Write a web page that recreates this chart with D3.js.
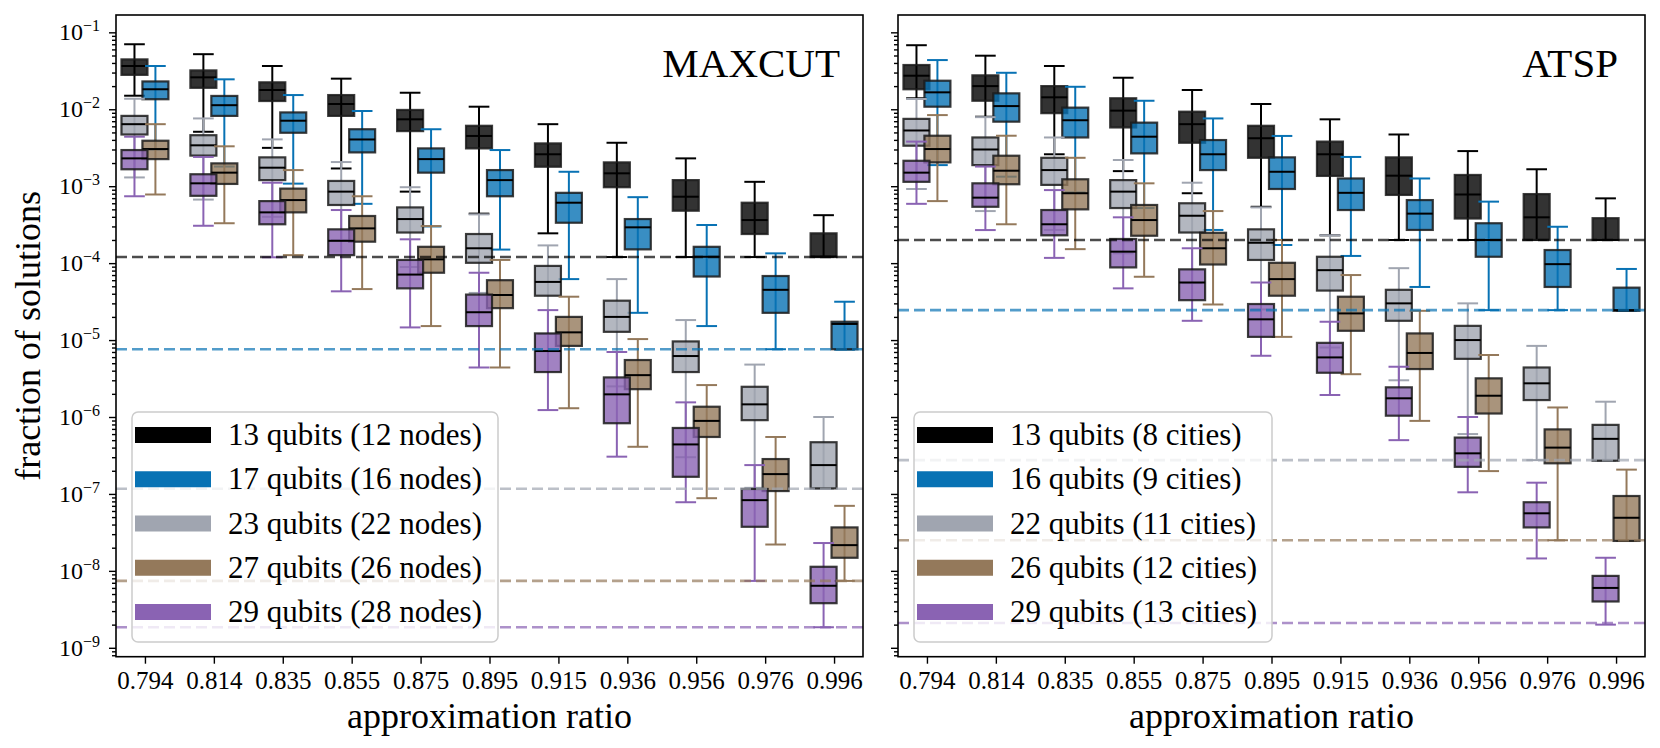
<!DOCTYPE html>
<html>
<head>
<meta charset="utf-8">
<script src="https://cdn.jsdelivr.net/npm/d3@7"></script>
<style>
  body { margin: 0; background: #fff; }
  svg { display: block; }
  text { font-family: "Liberation Serif", "Times New Roman", serif; fill: #000; }
</style>
</head>
<body>
<svg id="chart" width="1660" height="748"></svg>
<script>
// approximation ratio categories
var ratios = ["0.794", "0.814", "0.835", "0.855", "0.875", "0.895", "0.915", "0.936", "0.956", "0.976", "0.996"];

// every box is [low whisker, q1, median, q3, high whisker]
var maxcut13 = [[1.5e-2, 2.8e-2, 3.65e-2, 4.45e-2, 7.0e-2], [5.1e-3, 1.9e-2, 2.6e-2, 3.2e-2, 5.2e-2], [3.15e-3, 1.28e-2, 1.78e-2, 2.24e-2, 3.65e-2],
  [1.7e-3, 8.2e-3, 1.17e-2, 1.53e-2, 2.5e-2], [8.5e-4, 5.2e-3, 7.4e-3, 9.8e-3, 1.64e-2], [4.4e-4, 3.1e-3, 4.5e-3, 6.1e-3, 1.08e-2],
  [2.44e-4, 1.79e-3, 2.6e-3, 3.6e-3, 6.4e-3], [1.2e-4, 9.7e-4, 1.47e-3, 2.04e-3, 3.67e-3], [1.2e-4, 4.8e-4, 7.3e-4, 1.2e-3, 2.3e-3],
  [1.2e-4, 2.39e-4, 3.63e-4, 6.1e-4, 1.14e-3], [1.2e-4, 1.2e-4, 1.22e-4, 2.44e-4, 4.2e-4]];
var maxcut17 = [[3.0e-3, 1.35e-2, 1.82e-2, 2.3e-2, 3.65e-2], [1.8e-3, 8.2e-3, 1.13e-2, 1.49e-2, 2.45e-2], [1.08e-3, 4.95e-3, 7.1e-3, 9.1e-3, 1.53e-2],
  [5.9e-4, 2.75e-3, 4.05e-3, 5.5e-3, 9.5e-3], [3.0e-4, 1.5e-3, 2.25e-3, 3.1e-3, 5.5e-3], [1.5e-4, 7.4e-4, 1.2e-3, 1.62e-3, 2.95e-3],
  [6.2e-5, 3.35e-4, 6.1e-4, 8.2e-4, 1.54e-3], [2.26e-5, 1.51e-4, 2.92e-4, 3.74e-4, 7.2e-4], [1.52e-5, 6.7e-5, 1.21e-4, 1.63e-4, 3.13e-4],
  [7.6e-6, 2.26e-5, 4.5e-5, 6.8e-5, 1.34e-4], [7.5e-6, 7.6e-6, 1.62e-5, 1.73e-5, 3.15e-5]];
var maxcut23 = [[1.3e-3, 4.7e-3, 6.4e-3, 8.2e-3, 1.37e-2], [6.7e-4, 2.5e-3, 3.4e-3, 4.6e-3, 7.6e-3], [4.0e-4, 1.2e-3, 1.74e-3, 2.37e-3, 4.06e-3],
  [2.0e-4, 5.7e-4, 8.5e-4, 1.17e-3, 2.06e-3], [8.9e-5, 2.5e-4, 3.74e-4, 5.3e-4, 9.7e-4], [4.1e-5, 1.01e-4, 1.56e-4, 2.39e-4, 4.3e-4],
  [1.2e-5, 3.77e-5, 5.7e-5, 9.2e-5, 1.7e-4], [2.5e-6, 1.28e-5, 2.0e-5, 3.25e-5, 6.2e-5], [3.0e-7, 3.84e-6, 6.2e-6, 9.6e-6, 1.82e-5],
  [1.2e-7, 9.1e-7, 1.46e-6, 2.47e-6, 4.8e-6], [1.17e-7, 1.18e-7, 2.37e-7, 4.7e-7, 1.0e-6]];
var maxcut27 = [[7.8e-4, 2.25e-3, 3.04e-3, 3.9e-3, 6.4e-3], [3.3e-4, 1.07e-3, 1.5e-3, 1.98e-3, 3.3e-3], [1.27e-4, 4.57e-4, 6.6e-4, 9.3e-4, 1.62e-3],
  [4.6e-5, 1.9e-4, 2.83e-4, 4.1e-4, 7.4e-4], [1.52e-5, 7.5e-5, 1.12e-4, 1.63e-4, 3.03e-4], [4.4e-6, 2.6e-5, 3.85e-5, 6.0e-5, 1.1e-4],
  [1.3e-6, 8.4e-6, 1.26e-5, 2.0e-5, 3.66e-5], [4.1e-7, 2.3e-6, 3.5e-6, 5.5e-6, 1.03e-5], [8.8e-8, 5.5e-7, 8.9e-7, 1.36e-6, 2.6e-6],
  [2.2e-8, 1.09e-7, 1.81e-7, 2.84e-7, 5.5e-7], [7.4e-9, 1.48e-8, 2.16e-8, 3.67e-8, 7.0e-8]];
var maxcut29 = [[7.4e-4, 1.66e-3, 2.3e-3, 2.95e-3, 4.4e-3], [3.06e-4, 7.5e-4, 1.09e-3, 1.43e-3, 2.4e-3], [1.19e-4, 3.2e-4, 4.57e-4, 6.4e-4, 1.11e-3],
  [4.3e-5, 1.27e-4, 1.95e-4, 2.75e-4, 4.9e-4], [1.46e-5, 4.7e-5, 7.1e-5, 1.1e-4, 2.04e-4], [4.4e-6, 1.52e-5, 2.3e-5, 3.9e-5, 7.5e-5],
  [1.23e-6, 3.84e-6, 7.2e-6, 1.22e-5, 2.45e-5], [3.05e-7, 8.3e-7, 1.97e-6, 3.27e-6, 7.0e-6], [7.8e-8, 1.67e-7, 4.4e-7, 7.2e-7, 1.55e-6],
  [7.4e-9, 3.74e-8, 8.3e-8, 1.16e-7, 2.37e-7], [1.85e-9, 3.8e-9, 6.4e-9, 1.13e-8, 2.3e-8]];

var atsp13 = [[1.39e-2, 1.82e-2, 2.73e-2, 3.76e-2, 6.8e-2], [8.0e-3, 1.29e-2, 2.0e-2, 2.76e-2, 4.97e-2], [2.6e-3, 8.9e-3, 1.43e-2, 2.0e-2, 3.65e-2],
  [1.57e-3, 5.8e-3, 9.6e-3, 1.39e-2, 2.57e-2], [8.1e-4, 3.67e-3, 6.4e-3, 9.3e-3, 1.78e-2], [5.4e-4, 2.34e-3, 4.2e-3, 6.1e-3, 1.17e-2],
  [2.3e-4, 1.36e-3, 2.6e-3, 3.8e-3, 7.4e-3], [2.0e-4, 7.7e-4, 1.37e-3, 2.37e-3, 4.7e-3], [2.0e-4, 3.8e-4, 7.8e-4, 1.4e-3, 2.86e-3],
  [2.0e-4, 2.0e-4, 3.94e-4, 7.9e-4, 1.66e-3], [2.0e-4, 2.0e-4, 2.0e-4, 3.84e-4, 6.95e-4]];
var atsp16 = [[1.88e-3, 1.08e-2, 1.66e-2, 2.35e-2, 4.36e-2], [1.33e-3, 6.9e-3, 1.1e-2, 1.61e-2, 2.98e-2], [8.3e-4, 4.3e-3, 7.2e-3, 1.05e-2, 1.96e-2],
  [5.2e-4, 2.67e-3, 4.4e-3, 6.7e-3, 1.29e-2], [2.7e-4, 1.62e-3, 2.6e-3, 3.98e-3, 7.6e-3], [1.72e-4, 9.2e-4, 1.54e-3, 2.37e-3, 4.5e-3],
  [1.24e-4, 4.9e-4, 8.2e-4, 1.26e-3, 2.4e-3], [4.9e-5, 2.7e-4, 4.4e-4, 6.6e-4, 1.26e-3], [2.45e-5, 1.21e-4, 2.0e-4, 3.3e-4, 6.3e-4],
  [2.45e-5, 4.9e-5, 9.7e-5, 1.48e-4, 2.97e-4], [2.4e-5, 2.4e-5, 2.45e-5, 4.8e-5, 8.4e-5]];
var atsp22 = [[9.2e-4, 3.36e-3, 5.3e-3, 7.5e-3, 1.36e-2], [4.75e-4, 1.88e-3, 3.0e-3, 4.3e-3, 7.9e-3], [2.7e-4, 1.04e-3, 1.62e-3, 2.34e-3, 4.3e-3],
  [1.34e-4, 5.2e-4, 8.5e-4, 1.2e-3, 2.19e-3], [5.5e-5, 2.5e-4, 4.13e-4, 6.0e-4, 1.11e-3], [2.5e-5, 1.1e-4, 1.84e-4, 2.75e-4, 5.3e-4],
  [8.0e-6, 4.4e-5, 8.1e-5, 1.21e-4, 2.3e-4], [3.0e-6, 1.78e-5, 3.0e-5, 4.5e-5, 8.6e-5], [6.0e-7, 5.7e-6, 1.0e-5, 1.53e-5, 3.0e-5],
  [2.75e-7, 1.66e-6, 2.74e-6, 4.4e-6, 8.4e-6], [2.7e-7, 2.7e-7, 5.2e-7, 7.9e-7, 1.58e-6]];
var atsp26 = [[6.4e-4, 2.04e-3, 3.04e-3, 4.53e-3, 8.4e-3], [3.2e-4, 1.06e-3, 1.59e-3, 2.49e-3, 4.53e-3], [1.52e-4, 5.0e-4, 8.1e-4, 1.23e-3, 2.34e-3],
  [6.65e-5, 2.27e-4, 3.63e-4, 5.7e-4, 1.09e-3], [2.9e-5, 9.6e-5, 1.56e-4, 2.48e-4, 4.75e-4], [1.1e-5, 3.77e-5, 6.2e-5, 1.01e-4, 2.0e-4],
  [3.6e-6, 1.32e-5, 2.22e-5, 3.66e-5, 7.0e-5], [8.9e-7, 4.2e-6, 6.8e-6, 1.22e-5, 2.4e-5], [1.98e-7, 1.11e-6, 1.89e-6, 3.18e-6, 6.4e-6],
  [2.5e-8, 2.5e-7, 4.0e-7, 6.9e-7, 1.33e-6], [2.45e-8, 2.45e-8, 4.9e-8, 9.4e-8, 2.07e-7]];
var atsp29 = [[5.9e-4, 1.14e-3, 1.5e-3, 2.14e-3, 3.8e-3], [2.69e-4, 5.4e-4, 7.1e-4, 1.09e-3, 1.8e-3], [1.17e-4, 2.3e-4, 3.2e-4, 4.9e-4, 8.9e-4],
  [4.7e-5, 8.8e-5, 1.41e-4, 2.06e-4, 3.94e-4], [1.78e-5, 3.3e-5, 5.6e-5, 8.3e-5, 1.56e-4], [6.25e-6, 1.1e-5, 1.86e-5, 2.94e-5, 5.6e-5],
  [1.93e-6, 3.76e-6, 5.95e-6, 9.2e-6, 1.73e-5], [5.0e-7, 1.04e-6, 1.75e-6, 2.43e-6, 4.5e-6], [1.05e-7, 2.25e-7, 3.37e-7, 5.4e-7, 1.0e-6],
  [1.45e-8, 3.67e-8, 5.6e-8, 7.8e-8, 1.4e-7], [2.0e-9, 4.0e-9, 6.0e-9, 8.6e-9, 1.48e-8]];

// dashed reference lines, one per size
var maxcutFloor = [1.2e-4, 7.6e-6, 1.17e-7, 7.4e-9, 1.85e-9];
var atspFloor = [2.0e-4, 2.45e-5, 2.75e-7, 2.5e-8, 2.1e-9];

var maxcutLabels = ["13 qubits (12 nodes)", "17 qubits (16 nodes)", "23 qubits (22 nodes)", "27 qubits (26 nodes)", "29 qubits (28 nodes)"];
var atspLabels = ["13 qubits (8 cities)", "16 qubits (9 cities)", "22 qubits (11 cities)", "26 qubits (12 cities)", "29 qubits (13 cities)"];

var colors = ["#000000", "#0872b4", "#a0a5b0", "#94795b", "#8a63b3"];
var side = [-1, 1, -1, 1, -1];   // left / right column inside a group

var svg = d3.select("#chart");
var plotTop = 15, plotBottom = 656.7;

var y = d3.scaleLog().domain([7.66e-10, 0.168]).range([plotBottom, plotTop]);

var majors = d3.range(-9, 0).map(function(e) { return Math.pow(10, e); });
var minors = [];
d3.range(-10, 0).forEach(function(e) {
  for (var k = 2; k <= 9; k++) {
    var v = k * Math.pow(10, e);
    if (v > y.domain()[0] && v < y.domain()[1]) minors.push(v);
  }
});

function drawPanel(cfg) {
  var g = svg.append("g");
  var x = d3.scalePoint().domain(ratios).range([cfg.x0, cfg.x1]).padding(0.42);
  var step = x.step();
  var off = step * 0.152, bw = step * 0.377, cw = step * 0.3;

  // boxes, series after series
  cfg.series.forEach(function(s, i) {
    var col = colors[i];
    var sg = g.append("g");
    var cx = function(d, j) { return x(ratios[j]) + side[i] * off; };

    sg.selectAll(".whisker").data(s).join("line")
      .attr("x1", cx).attr("x2", cx)
      .attr("y1", function(d) { return y(d[0]); })
      .attr("y2", function(d) { return y(d[4]); })
      .attr("stroke", col).attr("stroke-width", 2);

    [0, 4].forEach(function(k) {
      sg.selectAll(".cap" + k).data(s).join("line")
        .attr("x1", function(d, j) { return cx(d, j) - cw / 2; })
        .attr("x2", function(d, j) { return cx(d, j) + cw / 2; })
        .attr("y1", function(d) { return y(d[k]); })
        .attr("y2", function(d) { return y(d[k]); })
        .attr("stroke", col).attr("stroke-width", 2);
    });

    sg.selectAll(".box").data(s).join("rect")
      .attr("x", function(d, j) { return cx(d, j) - bw / 2; })
      .attr("width", bw)
      .attr("y", function(d) { return y(d[3]); })
      .attr("height", function(d) { return Math.max(0.5, y(d[1]) - y(d[3])); })
      .attr("fill", col).attr("fill-opacity", 0.8)
      .attr("stroke", "#1a1a1a").attr("stroke-opacity", 0.85).attr("stroke-width", 2.2);

    sg.selectAll(".median").data(s).join("line")
      .attr("x1", function(d, j) { return cx(d, j) - bw / 2; })
      .attr("x2", function(d, j) { return cx(d, j) + bw / 2; })
      .attr("y1", function(d) { return y(d[2]); })
      .attr("y2", function(d) { return y(d[2]); })
      .attr("stroke", "#000").attr("stroke-width", 2);
  });

  // dashed floors
  g.selectAll(".floor").data(cfg.floors).join("line")
    .attr("x1", cfg.x0).attr("x2", cfg.x1)
    .attr("y1", function(d) { return y(d); })
    .attr("y2", function(d) { return y(d); })
    .attr("stroke", function(d, i) { return colors[i]; })
    .attr("stroke-opacity", 0.7)
    .attr("stroke-width", 2.6)
    .attr("stroke-dasharray", "11,5");

  // legend
  var lg = g.append("g");
  lg.append("rect")
    .attr("x", cfg.legendX).attr("y", 412).attr("width", cfg.legendW).attr("height", 230)
    .attr("rx", 6).attr("fill", "#fff").attr("fill-opacity", 0.8)
    .attr("stroke", "#cccccc").attr("stroke-width", 1.5);
  var items = lg.selectAll(".item").data(cfg.labels).join("g")
    .attr("transform", function(d, i) { return "translate(0," + (435 + i * 44.25) + ")"; });
  items.append("rect")
    .attr("x", cfg.legendX + 3).attr("y", -8).attr("width", 76).attr("height", 16)
    .attr("fill", function(d, i) { return colors[i]; });
  items.append("text")
    .attr("x", cfg.legendX + 96).attr("y", 10)
    .style("font-size", "31px")
    .text(function(d) { return d; });

  // title
  g.append("text")
    .attr("x", cfg.titleX).attr("y", 77)
    .attr("text-anchor", "end")
    .style("font-size", "41px")
    .text(cfg.title);

  // axes
  var ya = g.append("g").attr("transform", "translate(" + cfg.x0 + ",0)");
  ya.call(d3.axisLeft(y).tickValues(majors).tickSize(7).tickFormat(""));
  ya.append("g").call(d3.axisLeft(y).tickValues(minors).tickSize(4).tickFormat(""));
  ya.selectAll(".domain").remove();
  ya.selectAll("line").attr("stroke", "#000").attr("stroke-width", 1.4);

  if (cfg.yLabels) {
    var lab = g.selectAll(".ylab").data(majors).join("text")
      .attr("x", cfg.x0 - 16)
      .attr("y", function(d) { return y(d) + 8; })
      .attr("text-anchor", "end")
      .style("font-size", "24px");
    lab.append("tspan").text("10");
    lab.append("tspan")
      .attr("dy", -9)
      .style("font-size", "16px")
      .text(function(d) { return "\u2212" + Math.round(-Math.log10(d)); });

    g.append("text")
      .attr("transform", "translate(40," + ((plotTop + plotBottom) / 2) + ") rotate(-90)")
      .attr("text-anchor", "middle")
      .style("font-size", "36px")
      .text("fraction of solutions");
  }

  var xa = g.append("g").attr("transform", "translate(0," + plotBottom + ")")
    .call(d3.axisBottom(x).tickSize(7).tickPadding(8));
  xa.attr("font-family", null).attr("font-size", null);
  xa.selectAll(".domain").remove();
  xa.selectAll("line").attr("stroke", "#000").attr("stroke-width", 1.4);
  xa.selectAll("text").attr("fill", "#000").style("font-size", "25px");

  g.append("text")
    .attr("x", (cfg.x0 + cfg.x1) / 2).attr("y", 728)
    .attr("text-anchor", "middle")
    .style("font-size", "36px")
    .text("approximation ratio");

  g.append("rect")
    .attr("x", cfg.x0).attr("y", plotTop).attr("width", cfg.x1 - cfg.x0).attr("height", plotBottom - plotTop)
    .attr("fill", "none").attr("stroke", "#000").attr("stroke-width", 1.6);
}

drawPanel({
  x0: 116, x1: 863,
  series: [maxcut13, maxcut17, maxcut23, maxcut27, maxcut29],
  floors: maxcutFloor, labels: maxcutLabels,
  title: "MAXCUT", titleX: 840, legendX: 132, legendW: 366, yLabels: true
});
drawPanel({
  x0: 898, x1: 1645,
  series: [atsp13, atsp16, atsp22, atsp26, atsp29],
  floors: atspFloor, labels: atspLabels,
  title: "ATSP", titleX: 1618, legendX: 914, legendW: 358, yLabels: false
});
</script>
</body>
</html>
